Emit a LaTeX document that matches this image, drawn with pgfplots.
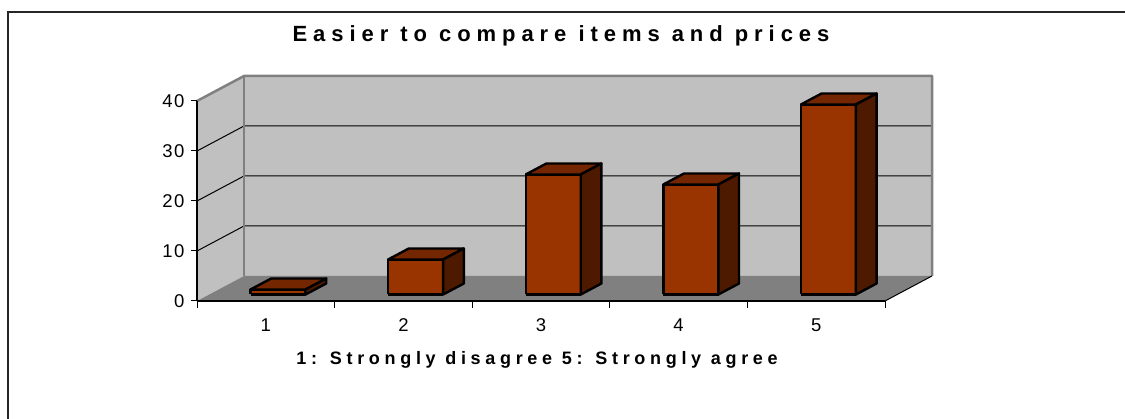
\documentclass[border=0pt]{standalone}
\usepackage{fontspec}
\setmainfont{Liberation Sans}
\newfontfamily\trackedA[LetterSpace=27]{Liberation Sans}
\newfontfamily\trackedB[LetterSpace=26]{Liberation Sans}
\newfontfamily\trackedC[LetterSpace=8]{Liberation Sans}
\usepackage{pgfplots}
\pgfplotsset{compat=1.18}

\definecolor{barfront}{HTML}{993300}
\definecolor{bartop}{HTML}{732600}
\definecolor{barside}{HTML}{4D1A00}
\definecolor{wallgray}{HTML}{C0C0C0}
\definecolor{floorgray}{HTML}{808080}
\definecolor{edgegray}{HTML}{808080}

% depth of the box, in units of the front plane
\def\dX{0.3416}
\def\dY{5}
% front and back of the columns as fractions of the depth
\def\fA{0.26}
\def\fB{0.70}
% half width of a column
\def\hw{0.2}

\pgfplotsset{barstyle/.style={draw=black, line width=2.4pt, line join=round}}

% one 3-D column: category, value
\newcommand{\columnbar}[2]{%
  \pgfmathsetmacro\xl{#1-\hw+\fA*\dX}%
  \pgfmathsetmacro\xr{#1+\hw+\fA*\dX}%
  \pgfmathsetmacro\yb{\fA*\dY}%
  \pgfmathsetmacro\yt{#2+\fA*\dY}%
  \pgfmathsetmacro\ddx{(\fB-\fA)*\dX}%
  \pgfmathsetmacro\ddy{(\fB-\fA)*\dY}%
  \pgfmathsetmacro\xlb{\xl+\ddx}%
  \pgfmathsetmacro\xrb{\xr+\ddx}%
  \pgfmathsetmacro\ybb{\yb+\ddy}%
  \pgfmathsetmacro\ytb{\yt+\ddy}%
  \edef\temp{%
    \noexpand\addplot[barstyle, fill=barfront] coordinates {(\xl,\yb) (\xr,\yb) (\xr,\yt) (\xl,\yt) (\xl,\yb)};
    \noexpand\addplot[barstyle, fill=bartop] coordinates {(\xl,\yt) (\xr,\yt) (\xrb,\ytb) (\xlb,\ytb) (\xl,\yt)};
    \noexpand\addplot[barstyle, fill=barside] coordinates {(\xr,\yb) (\xrb,\ybb) (\xrb,\ytb) (\xr,\yt) (\xr,\yb)};
  }\temp
}

\begin{document}
\begin{tikzpicture}
\path[use as bounding box] (0pt,0pt) rectangle (1125pt,419pt);
\begin{axis}[
  at={(197pt,118pt)}, anchor=south west,
  width=688pt, height=200pt, scale only axis,
  xmin=0.5, xmax=5.5, ymin=0, ymax=40,
  clip=false, axis on top,
  axis x line*=bottom, axis y line*=left,
  axis line style={-, black, line width=1.5pt},
  xtick={1,2,3,4,5},
  minor xtick={0.5,1.5,2.5,3.5,4.5,5.5},
  ytick={0,10,20,30,40},
  tick align=outside,
  major tick length=6pt, minor tick length=7pt,
  major x tick style={draw=none},
  minor x tick style={black, line width=1pt},
  major y tick style={black, line width=1pt},
  /pgf/number format/assume math mode=true,
  ticklabel style={font=\trackedC\fontsize{18.5}{20}\selectfont},
  xticklabel style={yshift=-8pt},
  yticklabel style={xshift=-3pt},
]
% walls and floor
\addplot[draw=none, fill=wallgray] coordinates {(0.5,0) (0.8416,5) (0.8416,45) (0.5,40) (0.5,0)};
\addplot[draw=none, fill=wallgray] coordinates {(0.8416,5) (5.8416,5) (5.8416,45) (0.8416,45) (0.8416,5)};
\addplot[draw=none, fill=floorgray] coordinates {(0.5,0) (5.5,0) (5.8416,5) (0.8416,5) (0.5,0)};
% gridlines
\addplot[black, line width=1pt] coordinates {(0.5,10) (0.8416,15) (5.8416,15)};
\addplot[black, line width=1pt] coordinates {(0.5,20) (0.8416,25) (5.8416,25)};
\addplot[black, line width=1pt] coordinates {(0.5,30) (0.8416,35) (5.8416,35)};
% wall edges
\addplot[edgegray, line width=2.5pt, line join=round] coordinates {(0.5,40) (0.8416,45) (5.8416,45) (5.8416,5)};
\addplot[edgegray, line width=2.5pt] coordinates {(0.8416,5) (0.8416,45)};
\addplot[black, line width=1pt] coordinates {(5.5,0) (5.8416,5)};
% columns
\columnbar{1}{1}
\columnbar{2}{7}
\columnbar{3}{24}
\columnbar{4}{22}
\columnbar{5}{38}
\end{axis}
\node[anchor=base, font=\trackedA\bfseries\fontsize{22}{24}\selectfont] at (561pt,377pt) {Easier to compare items and prices};
\node[anchor=base, font=\trackedB\bfseries\fontsize{18}{20}\selectfont] at (537pt,54pt) {1: Strongly disagree 5: Strongly agree};
\draw[line width=2pt, black!85] (8pt,-2pt) -- (8pt,407pt) -- (1127pt,407pt);
\end{tikzpicture}
\end{document}
